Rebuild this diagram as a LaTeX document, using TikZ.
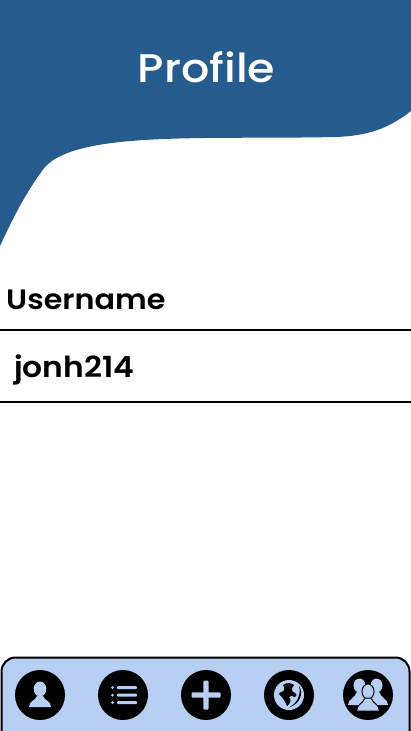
\documentclass[tikz,border=0pt]{standalone}
\usepackage{fontspec}
\setmainfont{Poppins}
\newfontfamily\titlefont[FakeStretch=1.11]{Poppins Medium}
\newfontfamily\fieldfont[FakeStretch=1.08]{Poppins SemiBold}
\usepackage{xcolor}
\usetikzlibrary{math}
\definecolor{headerblue}{HTML}{265B8E}
\definecolor{barblue}{HTML}{B7CFF2}
\tikzset{
  titletext/.style={text=white, font=\titlefont\fontsize{40}{46}\selectfont, inner sep=0pt, anchor=base},
  fieldtext/.style={text=black, font=\fieldfont\fontsize{28}{32}\selectfont, inner sep=0pt, anchor=base west},
  rule/.style={line width=1.5pt, color=black},
  iconball/.style={circle, fill=black, minimum size=50pt, inner sep=0pt},
  iconpart/.style={fill=barblue, draw=none}
}
\begin{document}
\begin{tikzpicture}[x=1pt, y=-1pt]
\tikzmath{
\W=411;
\H=731;
}
\useasboundingbox (0,0) rectangle (\W,\H);

% header
\fill[headerblue] (0,0) -- (\W,0) -- (\W,111) .. controls (388,129) and (367,136) .. (335,137)
  .. controls (290,138) and (240,137.5) .. (205,138) .. controls (130,139) and (60,143) .. (42,171)
  .. controls (25,194) and (12,220) .. (0,246) --cycle;
\node[titletext] (title) at (206.5,82) {Profile};

% fields
\node[fieldtext] (username) at (6,309) {Username};
\node[fieldtext, font=\fieldfont\fontsize{29}{33}\selectfont] (value) at (14,377) {jonh214};
\draw[rule] (0,330) -- (\W,330);
\draw[rule] (0,402) -- (\W,402);

% bottom bar
\draw[fill=barblue, line width=2pt, rounded corners=14pt] (1.5,\H+3) -- (1.5,657.5) -- (409.5,657.5) -- (409.5,\H+3);

\node[iconball] (person) at (40,695) {};
\node[iconball] (list) at (123,695) {};
\node[iconball] (add) at (206,695) {};
\node[iconball] (globe) at (289,695) {};
\node[iconball] (people) at (368,695) {};

\begin{scope}[shift={(person)}]
\fill[iconpart] (0,-6) ellipse(6.3 and 7.5);
\fill[iconpart] (-11,12) .. controls (-11,6) and (-5,6) .. (-3,1) -- (3,1) .. controls (5,6) and (11,6) .. (11,12) --cycle;
\end{scope}

\begin{scope}[shift={(list)}]
\foreach \y in {-7.5,0,7.5}{
  \fill[iconpart] (-10.5,\y) circle(1.5);
  \fill[iconpart, rounded corners=1pt] (-6,\y-1.5) rectangle (14,\y+1.5);
}
\end{scope}

\begin{scope}[shift={(add)}]
\fill[iconpart, rounded corners=1pt] (-14.5,-2.6) rectangle (14.5,2.6);
\fill[iconpart, rounded corners=1pt] (-2.6,-14.5) rectangle (2.6,14.5);
\end{scope}

\begin{scope}[shift={(globe)}]
\fill[iconpart] (0,0) circle(15);
% continent
\fill[black] (-6,-10) .. controls (-2,-13) and (3,-12) .. (5,-10) .. controls (3,-7) and (2,-6) .. (4,-3)
  .. controls (7,-2) and (9,0) .. (6,2) .. controls (3,1) and (1,0) .. (0,2)
  .. controls (3,5) and (1,9) .. (-2,11) .. controls (-4,7) and (-5,4) .. (-8,1)
  .. controls (-11,-1) and (-10,-3) .. (-8,-3) .. controls (-4,-3) and (-4,-7) .. (-6,-10) --cycle;
% shadow
\fill[black] (10,-9) .. controls (15,-2) and (11,9) .. (0,12.5) .. controls (9,8) and (12,-1) .. (10,-9) --cycle;
\end{scope}

\begin{scope}[shift={(people)}]
\fill[iconpart] (-8.5,-9.5) ellipse(6 and 7);
\fill[iconpart] (8.5,-9.5) ellipse(6 and 7);
\fill[iconpart] (-20,10) .. controls (-20,4) and (-13,3) .. (-11,-3) -- (11,-3) .. controls (13,3) and (20,4) .. (20,10) --cycle;
\fill[iconpart, draw=black, line width=1pt] (0,-3.5) ellipse(6 and 7.5);
\fill[iconpart, draw=black, line width=1pt] (-11.5,16) .. controls (-11.5,9) and (-5,9) .. (-3,3) -- (3,3) .. controls (5,9) and (11.5,9) .. (11.5,16) --cycle;
\end{scope}
\end{tikzpicture}
\end{document}
